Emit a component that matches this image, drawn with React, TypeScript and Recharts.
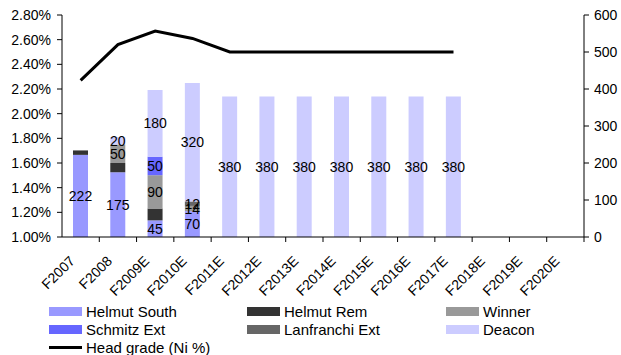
import React from 'react';
import {
  ComposedChart,
  Bar,
  Line,
  XAxis,
  YAxis,
  LabelList,
} from 'recharts';

// Categories and series (Mt ore / Ni head grade)
const years = [
  'F2007', 'F2008', 'F2009E', 'F2010E', 'F2011E', 'F2012E', 'F2013E',
  'F2014E', 'F2015E', 'F2016E', 'F2017E', 'F2018E', 'F2019E', 'F2020E',
];
const helmutSouth = [222, 175, 45, 70, null, null, null, null, null, null, null, null, null, null];
const helmutRem = [12, 25, 32, null, null, null, null, null, null, null, null, null, null, null];
const winner = [null, 50, 90, 14, null, null, null, null, null, null, null, null, null, null];
const schmitzExt = [null, null, 50, null, null, null, null, null, null, null, null, null, null, null];
const lanfranchiExt = [null, null, null, 12, null, null, null, null, null, null, null, null, null, null];
const deacon = [null, 20, 180, 320, 380, 380, 380, 380, 380, 380, 380, null, null, null];
const headGrade = [2.27, 2.56, 2.67, 2.61, 2.5, 2.5, 2.5, 2.5, 2.5, 2.5, 2.5, null, null, null];

const gradeTicks = [1.0, 1.2, 1.4, 1.6, 1.8, 2.0, 2.2, 2.4, 2.6, 2.8];
const tonnageTicks = [0, 100, 200, 300, 400, 500, 600];

const data = years.map((year, i) => ({
  year,
  helmutSouth: helmutSouth[i],
  helmutRem: helmutRem[i],
  winner: winner[i],
  schmitzExt: schmitzExt[i],
  lanfranchiExt: lanfranchiExt[i],
  deacon: deacon[i],
  headGrade: headGrade[i],
}));

const COLORS = {
  helmutSouth: '#9999ff',
  helmutRem: '#333333',
  winner: '#999999',
  schmitzExt: '#6666ff',
  lanfranchiExt: '#666666',
  deacon: '#ccccff',
};

const FONT = 'Arial, "Liberation Sans", sans-serif';

// plot geometry
const PLOT_LEFT = 62;
const PLOT_RIGHT = 584;
const PLOT_BOTTOM = 237;
const BAND = (PLOT_RIGHT - PLOT_LEFT) / years.length;

const SegmentLabel = (props: any) => {
  const { x, y, width, height, value } = props;
  if (value == null || value === 0) return null;
  return (
    <text
      x={x + width / 2}
      y={y + height / 2}
      textAnchor="middle"
      dominantBaseline="central"
      fontSize={14}
      fontFamily={FONT}
      fill="#000"
    >
      {value}
    </text>
  );
};

const YearTick = (props: any) => {
  const { x, payload } = props;
  const tx = x - 5;
  const ty = PLOT_BOTTOM + 25;
  return (
    <g>
      <line x1={x + BAND / 2} x2={x + BAND / 2} y1={PLOT_BOTTOM} y2={PLOT_BOTTOM + 5} stroke="#000" />
      <text
        x={tx}
        y={ty}
        textAnchor="end"
        fontSize={14}
        fontFamily={FONT}
        fill="#000"
        transform={`rotate(-45, ${tx}, ${ty})`}
      >
        {payload.value}
      </text>
    </g>
  );
};

const legendItems = [
  { label: 'Helmut South', color: COLORS.helmutSouth },
  { label: 'Helmut Rem', color: COLORS.helmutRem },
  { label: 'Winner', color: COLORS.winner },
  { label: 'Schmitz Ext', color: COLORS.schmitzExt },
  { label: 'Lanfranchi Ext', color: COLORS.lanfranchiExt },
  { label: 'Deacon', color: COLORS.deacon },
];

function Legend() {
  return (
    <div style={{ position: 'absolute', left: 49, top: 302, fontFamily: FONT, fontSize: 15, color: '#000' }}>
      <div style={{ display: 'grid', gridTemplateColumns: '198px 199px 160px', rowGap: 0 }}>
        {legendItems.map((it) => (
          <div key={it.label} style={{ display: 'flex', alignItems: 'center', height: 18, whiteSpace: 'nowrap' }}>
            <span style={{ display: 'inline-block', width: 33, height: 9, background: it.color, marginRight: 4 }} />
            {it.label}
          </div>
        ))}
        <div style={{ display: 'flex', alignItems: 'center', height: 18, whiteSpace: 'nowrap' }}>
          <span style={{ display: 'inline-block', width: 33, height: 3, background: '#000', marginRight: 4 }} />
          Head grade (Ni %)
        </div>
      </div>
    </div>
  );
}

export default function App() {
  return (
    <div style={{ position: 'absolute', left: 0, top: 0, width: 621, height: 355, background: '#fff', overflow: 'hidden' }}>
      <ComposedChart
        width={621}
        height={300}
        data={data}
        margin={{ top: 15, right: 0, left: 0, bottom: 0 }}
      >
        <XAxis
          dataKey="year"
          xAxisId="x"
          height={63}
          axisLine={{ stroke: '#000' }}
          tickLine={false}
          interval={0}
          tick={<YearTick />}
        />
        <YAxis
          yAxisId="grade"
          orientation="left"
          width={62}
          domain={[1.0, 2.8]}
          ticks={gradeTicks}
          allowDataOverflow
          axisLine={{ stroke: '#000' }}
          tickLine={{ stroke: '#000' }}
          tickSize={5}
          tickMargin={6}
          tick={{ fontSize: 14, fontFamily: FONT, fill: '#000' }}
          tickFormatter={(v: number) => `${v.toFixed(2)}%`}
        />
        <YAxis
          yAxisId="tonnes"
          orientation="right"
          width={37}
          domain={[0, 600]}
          ticks={tonnageTicks}
          axisLine={{ stroke: '#000' }}
          tickLine={{ stroke: '#000' }}
          tickSize={5}
          tickMargin={5}
          tick={{ fontSize: 14, fontFamily: FONT, fill: '#000', textAnchor: 'start' }}
        />

        <Bar xAxisId="x" yAxisId="tonnes" dataKey="helmutSouth" stackId="ore" fill={COLORS.helmutSouth} barSize={15} isAnimationActive={false}>
          <LabelList dataKey="helmutSouth" content={<SegmentLabel />} />
        </Bar>
        <Bar xAxisId="x" yAxisId="tonnes" dataKey="helmutRem" stackId="ore" fill={COLORS.helmutRem} barSize={15} isAnimationActive={false} />
        <Bar xAxisId="x" yAxisId="tonnes" dataKey="winner" stackId="ore" fill={COLORS.winner} barSize={15} isAnimationActive={false}>
          <LabelList dataKey="winner" content={<SegmentLabel />} />
        </Bar>
        <Bar xAxisId="x" yAxisId="tonnes" dataKey="schmitzExt" stackId="ore" fill={COLORS.schmitzExt} barSize={15} isAnimationActive={false}>
          <LabelList dataKey="schmitzExt" content={<SegmentLabel />} />
        </Bar>
        <Bar xAxisId="x" yAxisId="tonnes" dataKey="lanfranchiExt" stackId="ore" fill={COLORS.lanfranchiExt} barSize={15} isAnimationActive={false}>
          <LabelList dataKey="lanfranchiExt" content={<SegmentLabel />} />
        </Bar>
        <Bar xAxisId="x" yAxisId="tonnes" dataKey="deacon" stackId="ore" fill={COLORS.deacon} barSize={15} isAnimationActive={false}>
          <LabelList dataKey="deacon" content={<SegmentLabel />} />
        </Bar>

        <Line
          xAxisId="x"
          yAxisId="grade"
          type="linear"
          dataKey="headGrade"
          stroke="#000"
          strokeWidth={3}
          dot={false}
          activeDot={false}
          isAnimationActive={false}
        />
      </ComposedChart>
      <Legend />
    </div>
  );
}
